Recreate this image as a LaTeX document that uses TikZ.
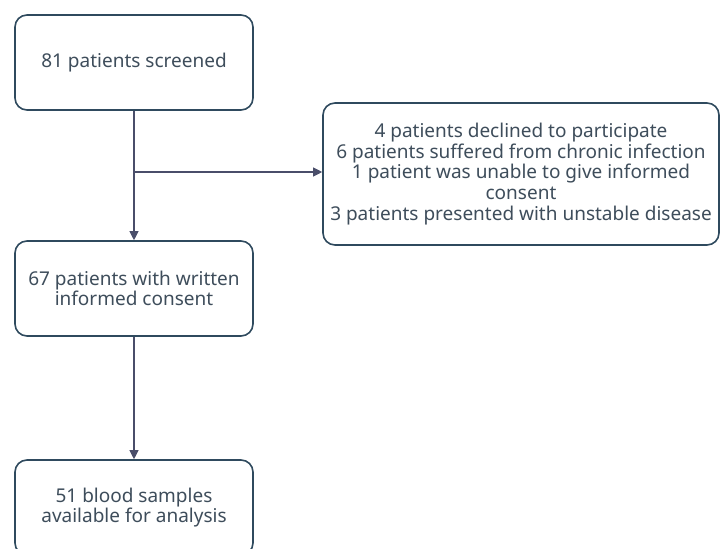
\documentclass[tikz,border=0pt]{standalone}
\usepackage{fontspec}
\setmainfont{Noto Sans}
\usetikzlibrary{positioning,arrows.meta}
\definecolor{boxLine}{HTML}{2F4A5E}
\definecolor{arrLine}{HTML}{4A4E6A}
\definecolor{txtGrey}{HTML}{3E4D5B}

\begin{document}
\begin{tikzpicture}[x=1pt,y=-1pt,
		stepbox/.style={draw=boxLine,line width=1.6pt,rounded corners=12pt,fill=white,text=txtGrey,
			align=center,inner sep=0pt,font=\fontsize{19}{20.7}\selectfont,
			minimum width=238pt,minimum height=95pt},
		flow/.style={draw=arrLine,line width=1.1pt,-{Triangle[length=9pt,width=9pt]}}]
		%\draw[help lines,step=50] (0,0) grid (721,549);
		\useasboundingbox (0,0) rectangle (721,549);

		\node[stepbox] (screen) at (134,62.5) {81 patients screened};
		\node[stepbox] (consent) at (134,288.5) {67 patients with written\\informed consent};
		\node[stepbox] (blood) at (134,507.5) {51 blood samples\\available for analysis};
		\node[stepbox,minimum width=396pt,minimum height=142pt] (excl) at (521,174)
			{4 patients declined to participate\\
			 6 patients suffered from chronic infection\\
			 1 patient was unable to give informed\hspace*{52pt}\\
			 consent\\
			 3 patients presented with unstable disease};

		\coordinate (split) at (134,172);
		\draw[flow] (screen) -- (consent);
		\draw[flow] (split) -- (split -| excl.west);
		\draw[flow] (consent) -- (blood);
\end{tikzpicture}
\end{document}
